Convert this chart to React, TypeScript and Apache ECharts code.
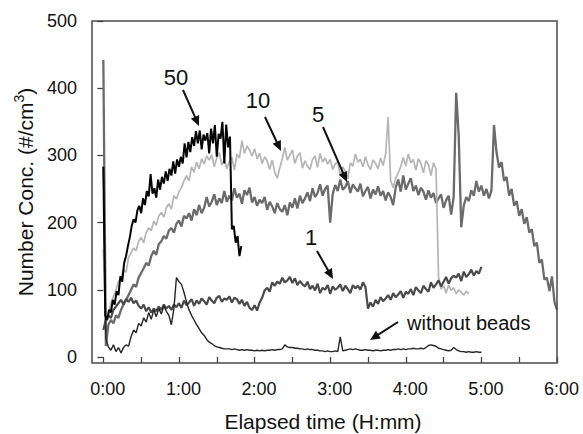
import React, { useEffect, useRef } from "react";
import * as echarts from "echarts";

// ---- Data (time in minutes; values in #/cm3) ----
const STEP = 2; // sampling step (min) of most series
const STEP_50 = 1.5; // sampling step (min) of the "50" series

const SERIES_NAMES = ["5", "10", "1", "without beads", "50"];

const values50 = [
  283, 62, 55, 70, 66, 85, 78, 98, 92, 120,
  112, 140, 150, 165, 178, 195, 205, 200, 218, 225,
  214, 236, 226, 247, 239, 272, 243, 251, 237, 264,
  249, 268, 258, 276, 262, 280, 270, 291, 273, 294,
  283, 298, 288, 318, 297, 320, 305, 327, 314, 336,
  318, 337, 309, 331, 322, 333, 303, 340, 318, 345,
  298, 332, 325, 350, 288, 346, 312, 328, 190, 195,
  170, 180, 150, 165,
];

const values10 = [
  160, 50, 62, 80, 90, 100, 112, 118, 130, 126,
  148, 155, 162, 158, 172, 178, 170, 185, 192, 188,
  202, 196, 210, 215, 208, 222, 228, 220, 240, 235,
  246, 252, 262, 270, 262, 283, 275, 290, 280, 295,
  287, 299, 293, 301, 283, 296, 304, 286, 294, 280,
  291, 297, 278, 302, 296, 322, 303, 314, 308, 299,
  310, 295, 303, 288, 298, 292, 279, 293, 275, 266,
  281, 295, 312, 293, 300, 308, 288, 299, 304, 281,
  292, 284, 279, 294, 299, 282, 303, 290, 296, 287,
  294, 279, 287, 291, 270, 283, 276, 265, 289, 284,
  302, 290, 294, 283, 298, 286, 279, 293, 288, 280,
  296, 285, 302, 357, 262, 252, 266, 274, 283, 297,
  284, 302, 289, 294, 278, 295, 288, 274, 292, 286,
  270, 289, 280, 119, 101, 106, 95, 107, 99, 103,
  94, 100, 96, 92, 98, 94,
];

const values5 = [
  442, 16, 48, 55, 50, 62, 58, 70, 78, 85,
  92, 100, 108, 104, 118, 125, 132, 140, 136, 150,
  158, 152, 168, 172, 180, 176, 188, 192, 185, 198,
  203, 194, 210, 206, 214, 203, 220, 211, 226, 214,
  222, 238, 224, 231, 242, 226, 236, 229, 247, 231,
  240, 233, 251, 237, 243, 228, 248, 241, 252, 230,
  238, 225, 234, 229, 238, 219, 231, 224, 214, 229,
  220, 216, 226, 211, 230, 222, 236, 221, 240, 229,
  236, 245, 232, 251, 238, 244, 257, 240, 250, 255,
  200, 242, 256, 247, 264, 249, 253, 262, 244, 257,
  251, 246, 258, 239, 247, 253, 236, 249, 242, 254,
  240, 247, 233, 245, 238, 226, 252, 264, 246, 270,
  249, 258, 266, 247, 255, 241, 252, 246, 234, 248,
  237, 244, 229, 236, 242, 222, 233, 240, 212, 238,
  393, 330, 193, 225, 238, 232, 248, 240, 262, 246,
  255, 240, 250, 236, 248, 345, 305, 282, 290, 262,
  268, 240, 250, 225, 232, 210, 220, 198, 208, 185,
  190, 165, 170, 140, 145, 115, 118, 98, 120, 82,
  70,
];

const values1 = [
  40, 55, 62, 58, 70, 75, 80, 85, 78, 86,
  82, 88, 80, 84, 76, 72, 78, 68, 74, 66,
  72, 68, 75, 70, 78, 72, 76, 70, 78, 74,
  80, 73, 84, 77, 81, 86, 76, 84, 79, 87,
  83, 78, 89, 84, 80, 88, 91, 82, 87, 85,
  90, 81, 88, 86, 79, 85, 76, 82, 73, 70,
  77, 69, 81, 88, 99, 103, 97, 111, 106, 112,
  109, 118, 111, 114, 119, 110, 117, 107, 113, 108,
  105, 112, 101, 106, 99, 109, 95, 103, 100, 107,
  94, 105, 100, 103, 108, 98, 106, 101, 95, 107,
  102, 106, 100, 111, 104, 72, 81, 75, 85, 79,
  89, 83, 87, 92, 85, 95, 89, 93, 98, 88,
  97, 94, 101, 92, 104, 99, 95, 106, 101, 97,
  111, 103, 108, 114, 105, 112, 119, 109, 117, 121,
  118, 124, 113, 127, 119, 123, 130, 121, 128, 124,
  134,
];

const valuesNoBeads = [
  283, 28, 15, 10, 18, 8, 14, 6, 14, 18,
  16, 30, 40, 36, 50, 46, 58, 52, 66, 56,
  70, 60, 72, 64, 76, 68, 62, 48, 72, 118,
  112, 108, 96, 82, 70, 62, 55, 48, 42, 36,
  32, 26, 22, 20, 17, 15, 14, 13, 12, 12,
  12, 11, 12, 11, 10, 11, 10, 11, 10, 10,
  9, 10, 9, 10, 9, 10, 10, 11, 10, 11,
  11, 12, 18, 15, 14, 14, 13, 13, 12, 12,
  11, 12, 11, 11, 10, 10, 9, 9, 8, 9,
  8, 8, 9, 8, 30, 9, 10, 11, 12, 11,
  12, 11, 10, 10, 11, 10, 10, 9, 10, 10,
  9, 10, 10, 11, 10, 11, 11, 12, 11, 12,
  11, 12, 12, 13, 12, 12, 13, 12, 14, 17,
  18, 17, 16, 13, 12, 11, 10, 9, 10, 14,
  11, 9, 8, 8, 7, 8, 7, 7, 8, 7,
  7,
];

const xTickValues = [0, 30, 60, 90, 120, 150, 180, 210, 240, 270, 300, 330, 360];
const xLabelValues = [0, 60, 120, 180, 240, 300, 360];
const yTickValues = [0, 100, 200, 300, 400, 500];

const COLORS: Record<string, string> = {
  "5": "#6b6b6b",
  "10": "#b5b5b5",
  "1": "#4a4a4a",
  "without beads": "#262626",
  "50": "#050505",
};
const WIDTHS: Record<string, number> = {
  "5": 2.3,
  "10": 1.7,
  "1": 2.2,
  "without beads": 1.4,
  "50": 2,
};

const DATA: Record<string, number[]> = {
  "5": values5,
  "10": values10,
  "1": values1,
  "without beads": valuesNoBeads,
  "50": values50,
};

function toPairs(vals: number[], step: number) {
  return vals.map((v, i) => [i * step, v]);
}

const FONT = "'Liberation Sans', Arial, Helvetica, sans-serif";

function arrow(x1: number, y1: number, x2: number, y2: number) {
  const dx = x2 - x1;
  const dy = y2 - y1;
  const L = Math.hypot(dx, dy);
  const ux = dx / L;
  const uy = dy / L;
  const hl = 10;
  const hw = 4.5;
  const bx = x2 - ux * hl;
  const by = y2 - uy * hl;
  return [
    {
      type: "line",
      z: 20,
      shape: { x1, y1, x2: bx + ux * 2, y2: by + uy * 2 },
      style: { stroke: "#111", lineWidth: 2 },
    },
    {
      type: "polygon",
      z: 20,
      shape: {
        points: [
          [x2, y2],
          [bx - uy * hw, by + ux * hw],
          [bx + uy * hw, by - ux * hw],
        ],
      },
      style: { fill: "#111" },
    },
  ];
}

function label(text: string, x: number, y: number, size: number, align = "center") {
  return {
    type: "text",
    z: 20,
    x,
    y,
    style: {
      text,
      fontSize: size,
      fontFamily: FONT,
      fill: "#111",
      align,
      verticalAlign: "middle",
    },
  };
}

const fmtTime = (v: number) => `${Math.floor(v / 60)}:${String(Math.round(v % 60)).padStart(2, "0")}`;

export default function App() {
  const ref = useRef<HTMLDivElement>(null);

  useEffect(() => {
    if (!ref.current) return;
    const chart = echarts.init(ref.current, null, { renderer: "svg" });

    const series = SERIES_NAMES.map((name) => ({
      name,
      type: "line",
      data: toPairs(DATA[name], name === "50" ? STEP_50 : STEP),
      showSymbol: false,
      symbol: "none",
      smooth: false,
      silent: true,
      lineStyle: { color: COLORS[name], width: WIDTHS[name] },
      itemStyle: { color: COLORS[name] },
      emphasis: { disabled: true },
    }));

    chart.setOption({
      animation: false,
      backgroundColor: "#ffffff",
      grid: {
        left: 92,
        right: 26,
        top: 21,
        bottom: 71,
        containLabel: false,
        outerBoundsMode: "none",
      },
      xAxis: {
        type: "value",
        min: -9,
        max: 360,
        splitLine: { show: false },
        axisLine: { show: false },
        axisTick: {
          show: true,
          customValues: xTickValues,
          length: 6,
          lineStyle: { color: "#444", width: 1.3 },
        },
        axisLabel: {
          customValues: xLabelValues,
          formatter: fmtTime,
          fontSize: 18,
          fontFamily: FONT,
          color: "#111",
          margin: 17,
          padding: [0, 0, 0, 9],
        },
      },
      yAxis: {
        type: "value",
        min: -9,
        max: 500,
        splitLine: { show: false },
        axisLine: { show: false },
        axisTick: {
          show: true,
          customValues: yTickValues,
          length: 6,
          lineStyle: { color: "#444", width: 1.3 },
        },
        axisLabel: {
          customValues: yTickValues,
          fontSize: 18,
          fontFamily: FONT,
          color: "#111",
          margin: 15,
        },
      },
      series,
      graphic: [
        {
          type: "rect",
          z: 15,
          shape: { x: 92, y: 21, width: 465, height: 342 },
          style: { fill: "none", stroke: "#4a4a4a", lineWidth: 1.5 },
        },
        {
          type: "text",
          z: 20,
          x: 323,
          y: 421,
          style: {
            text: "Elapsed time (H:mm)",
            fontSize: 21,
            fontFamily: FONT,
            fill: "#111",
            align: "center",
            verticalAlign: "middle",
          },
        },
        {
          type: "text",
          z: 20,
          x: 25,
          y: 192,
          rotation: Math.PI / 2,
          style: {
            text: "Number Conc. (#/cm{sup|3})",
            fontSize: 21,
            fontFamily: FONT,
            fill: "#111",
            align: "center",
            verticalAlign: "middle",
            rich: {
              sup: { fontSize: 14, fontFamily: FONT, fill: "#111", padding: [0, 0, 12, 0] },
            },
          },
        },
        label("50", 176, 77, 22),
        label("10", 258, 100, 22),
        label("5", 318, 114, 22),
        label("1", 311, 237, 22),
        label("without beads", 407, 323, 20, "left"),
        ...arrow(183, 90, 199, 126),
        ...arrow(265, 117, 281, 151),
        ...arrow(323, 127, 347, 182),
        ...arrow(317, 251, 333, 279),
        ...arrow(398, 322, 370, 340),
      ],
    });

    return () => chart.dispose();
  }, []);

  return (
    <div
      ref={ref}
      style={{ position: "fixed", left: 0, top: 0, width: 583, height: 434, background: "#fff" }}
    />
  );
}
